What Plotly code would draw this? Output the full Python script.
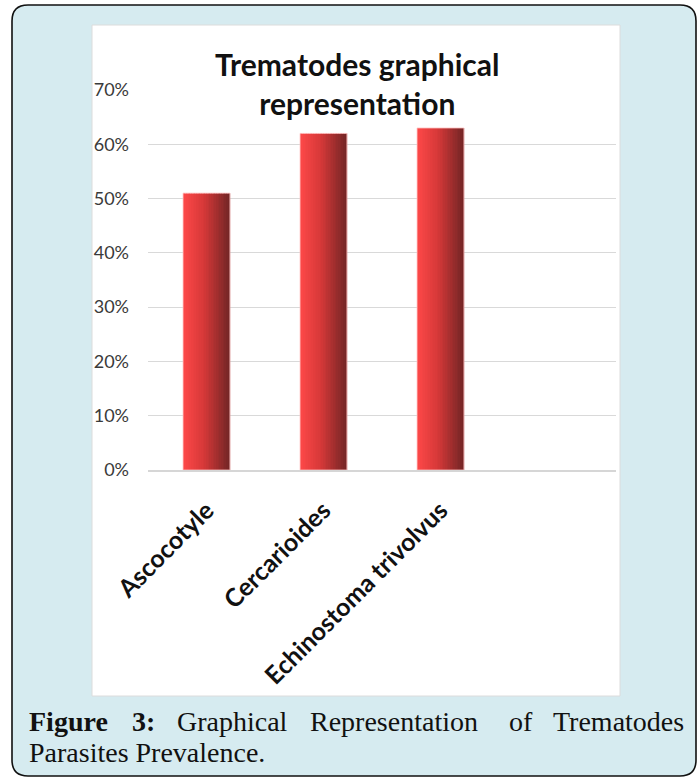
import plotly.graph_objects as go

# ---- data ----
categories = ["Ascocotyle", "Cercarioides", "Echinostoma trivolvus"]
prevalence = [0.51, 0.62, 0.63]
y_ticks = [0, 0.1, 0.2, 0.3, 0.4, 0.5, 0.6, 0.7]
y_tick_labels = ["0%", "10%", "20%", "30%", "40%", "50%", "60%", "70%"]
title_text = "Trematodes graphical<br>representation"
caption_line1 = ["Figure", "3:", "Graphical", "Representation", "of", "Trematodes"]
caption_line2 = "Parasites Prevalence."

# ---- layout geometry (pixels) ----
FW, FH = 699, 778
L, R, T, B = 148, 616, 90, 470
PW, PH = R - L, B - T


def px(x):
    return (x - L) / PW


def py(y):
    return (B - y) / PH


def rounded_path(x0, y0, x1, y1, r):
    pts = [
        f"M {px(x0 + r)} {py(y0)}",
        f"L {px(x1 - r)} {py(y0)}",
        f"Q {px(x1)} {py(y0)} {px(x1)} {py(y0 + r)}",
        f"L {px(x1)} {py(y1 - r)}",
        f"Q {px(x1)} {py(y1)} {px(x1 - r)} {py(y1)}",
        f"L {px(x0 + r)} {py(y1)}",
        f"Q {px(x0)} {py(y1)} {px(x0)} {py(y1 - r)}",
        f"L {px(x0)} {py(y0 + r)}",
        f"Q {px(x0)} {py(y0)} {px(x0 + r)} {py(y0)}",
        "Z",
    ]
    return " ".join(pts)


fig = go.Figure()

# gradient bars built from narrow overlaid slices
BAR_W = 0.40
N = 28
c_left = (253, 72, 72)
c_mid = (214, 56, 56)
c_right = (118, 38, 38)
for i in range(N):
    t = i / (N - 1)
    if t < 0.45:
        u = t / 0.45
        c = [c_left[k] + (c_mid[k] - c_left[k]) * u for k in range(3)]
    else:
        u = (t - 0.45) / 0.55
        c = [c_mid[k] + (c_right[k] - c_mid[k]) * u for k in range(3)]
    col = "rgb(%d,%d,%d)" % tuple(int(round(v)) for v in c)
    fig.add_trace(go.Bar(
        x=categories, y=prevalence,
        width=BAR_W / N * 1.15,
        offset=-BAR_W / 2 + i * BAR_W / N,
        marker=dict(color=col, line=dict(width=0)),
        hoverinfo="skip", showlegend=False,
    ))
# thin light outline
fig.add_trace(go.Bar(
    x=categories, y=prevalence, width=BAR_W, offset=-BAR_W / 2,
    marker=dict(color="rgba(0,0,0,0)", line=dict(color="rgba(255,190,190,0.8)", width=1)),
    hoverinfo="skip", showlegend=False,
))

shapes = [
    dict(type="path", xref="paper", yref="paper",
         path=rounded_path(12, 5, 696, 776, 16),
         fillcolor="#d6ebf0", line=dict(color="#111111", width=1.6), layer="below"),
    dict(type="rect", xref="paper", yref="paper",
         x0=px(92), x1=px(620), y0=py(25), y1=py(696),
         fillcolor="white", line=dict(color="#dcdcdc", width=1), layer="below"),
]

annotations = [dict(
    text=f"<b>{title_text}</b>", x=px(357), y=py(83), xref="paper", yref="paper",
    xanchor="center", yanchor="middle", align="center", showarrow=False,
    font=dict(family="Lato", size=30, color="#111111"),
)]

CAP_FONT = dict(family="Liberation Serif", size=28, color="#111111")
cap_starts = [27, 130, 175, 308, 507, None]
for w, xs in zip(caption_line1, cap_starts):
    txt = f"<b>{w}</b>" if w in ("Figure", "3:") else w
    if xs is None:
        annotations.append(dict(text=txt, x=px(686), y=py(721), xref="paper", yref="paper",
                                xanchor="right", yanchor="middle", showarrow=False, font=CAP_FONT))
    else:
        annotations.append(dict(text=txt, x=px(xs), y=py(721), xref="paper", yref="paper",
                                xanchor="left", yanchor="middle", showarrow=False, font=CAP_FONT))
annotations.append(dict(text=caption_line2, x=px(27), y=py(752), xref="paper", yref="paper",
                        xanchor="left", yanchor="middle", showarrow=False, font=CAP_FONT))

fig.update_layout(
    width=FW, height=FH,
    margin=dict(l=L, r=FW - R, t=T, b=FH - B, pad=0),
    paper_bgcolor="white", plot_bgcolor="rgba(0,0,0,0)",
    barmode="overlay", showlegend=False,
    shapes=shapes, annotations=annotations,
    xaxis=dict(
        type="category", range=[-0.5, 3.5], categoryorder="array", categoryarray=categories,
        showgrid=False, showline=True, linecolor="#d6d6d6", linewidth=2,
        tickangle=-45, ticks="", ticklabelstandoff=14,
        tickfont=dict(family="Lato", size=25, color="#111111", weight="bold"),
        fixedrange=True,
    ),
    yaxis=dict(
        range=[0, 0.7], tickvals=y_ticks, ticktext=y_tick_labels,
        showgrid=True, gridcolor="#d9d9d9", gridwidth=1, zeroline=False,
        showline=False, ticks="", ticklabelstandoff=18,
        tickfont=dict(family="Lato", size=18, color="#3a3a3a"),
        fixedrange=True,
    ),
)

fig.write_html("out.html", config={"displayModeBar": False},
               post_script="document.body.style.margin='0';")
